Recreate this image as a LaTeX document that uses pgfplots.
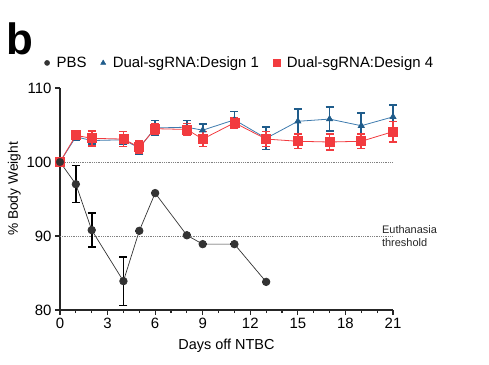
\documentclass[border=0pt]{standalone}
\usepackage{pgfplots}
\pgfplotsset{compat=1.18}
\usepackage{fontspec}
\setmainfont{Liberation Sans}
\definecolor{pbs}{HTML}{333333}
\definecolor{dblue}{HTML}{1F5C8B}
\definecolor{lblue}{HTML}{3E7BAE}
\definecolor{dred}{HTML}{F23B3F}
\begin{document}
\begin{tikzpicture}
\useasboundingbox (0,0) rectangle (489bp,365bp);
\node[anchor=base west, inner sep=0pt, font=\fontsize{44}{44}\selectfont\bfseries] at (6bp,310bp) {b};
\begin{axis}[
  at={(60bp,55bp)}, anchor=south west,
  scale only axis, width=333bp, height=222bp,
  xmin=0, xmax=21, ymin=80, ymax=110,
  axis x line*=bottom, axis y line*=left,
  axis line style={line width=1.4pt, color=black!85, -},
  xtick={0,3,...,21}, minor xtick={1,2,4,5,7,8,10,11,13,14,16,17,19,20},
  ytick={80,90,100,110},
  tick align=outside,
  major tick length=5bp, minor tick length=3bp,
  every tick/.style={line width=1.2pt, black!85},
  tick label style={font=\fontsize{15}{15}\selectfont},
  /pgf/number format/assume math mode=true,
  xlabel={Days off NTBC}, ylabel={\% Body Weight},
  xlabel style={font=\fontsize{14.5}{15}\selectfont, yshift=-3bp},
  ylabel style={font=\fontsize{13.8}{14}\selectfont, at={(ticklabel cs:0.545)}, yshift=-1bp},
  clip=false,
  legend columns=3,
  legend style={draw=none, fill=none, at={(rel axis cs:0.54,1.113)}, anchor=center,
    font=\fontsize{15}{15}\selectfont,
    /tikz/every odd column/.append style={column sep=5bp},
    /tikz/every even column/.append style={column sep=12bp}},
  legend cell align=left,
]
\addlegendimage{only marks, mark=*, mark size=2.6bp, color=pbs}
\addlegendentry{PBS}
\addlegendimage{only marks, mark=triangle*, mark size=3bp, color=dblue}
\addlegendentry{Dual-sgRNA:Design 1\hspace{5bp}}
\addlegendimage{only marks, mark=square*, mark size=3.5bp, color=dred}
\addlegendentry{Dual-sgRNA:Design 4}

\addplot[gray, densely dotted, line width=0.8pt, forget plot] coordinates {(0,100) (21,100)};
\addplot[gray, densely dotted, line width=0.8pt, forget plot] coordinates {(0,90) (21,90)};

% PBS
\addplot[color=pbs, line width=0.7pt, mark=*, mark size=3.8bp, forget plot,
  error bars/.cd, y dir=both, y explicit,
  error bar style={line width=1.6pt, black},
  error mark options={rotate=90, mark size=4bp, line width=1.6pt, black}]
coordinates {
(0,100) +- (0,0)
(1,97.0) +- (0,2.5)
(2,90.8) +- (0,2.3)
(4,83.9) +- (0,3.3)
(5,90.7) +- (0,0)
(6,95.8) +- (0,0)
(8,90.1) +- (0,0)
(9,88.9) +- (0,0)
(11,88.9) +- (0,0)
(13,83.8) +- (0,0)
};

% Design 1
\addplot[color=lblue, line width=0.8pt, mark=triangle*, mark size=3.4bp,
  mark options={dblue}, forget plot,
  error bars/.cd, y dir=both, y explicit,
  error bar style={line width=1.6pt, dblue},
  error mark options={rotate=90, mark size=4bp, line width=1.6pt, dblue}]
coordinates {
(0,100) +- (0,0)
(1,103.4) +- (0,0.5)
(2,102.9) +- (0,0.5)
(4,103.0) +- (0,0.6)
(5,101.9) +- (0,0.8)
(6,104.6) +- (0,1.0)
(8,104.7) +- (0,0.9)
(9,104.3) +- (0,0.8)
(11,105.7) +- (0,1.1)
(13,103.2) +- (0,1.5)
(15,105.5) +- (0,1.7)
(17,105.8) +- (0,1.6)
(19,104.9) +- (0,1.7)
(21,106.1) +- (0,1.6)
};

% Design 4
\addplot[color=dred, line width=0.8pt, mark=square*, mark size=4.5bp, forget plot,
  error bars/.cd, y dir=both, y explicit,
  error bar style={line width=1.6pt, dred},
  error mark options={rotate=90, mark size=4bp, line width=1.6pt, dred}]
coordinates {
(0,100) +- (0,0)
(1,103.6) +- (0,0.5)
(2,103.2) +- (0,1.0)
(4,103.1) +- (0,1.0)
(5,102.0) +- (0,0.8)
(6,104.5) +- (0,0.7)
(8,104.4) +- (0,0.8)
(9,103.1) +- (0,1.0)
(11,105.3) +- (0,0.7)
(13,103.1) +- (0,1.0)
(15,102.8) +- (0,1.0)
(17,102.7) +- (0,1.1)
(19,102.8) +- (0,1.0)
(21,104.1) +- (0,1.4)
};

% PBS start point on top
\addplot[only marks, mark=*, mark size=3.8bp, color=pbs, forget plot] coordinates {(0,100)};

\node[anchor=west, align=left, inner sep=0pt, font=\fontsize{11}{13}\selectfont, text=black!85]
  at (axis cs:20.3,90) {Euthanasia\\threshold};
\end{axis}
\end{tikzpicture}
\end{document}
